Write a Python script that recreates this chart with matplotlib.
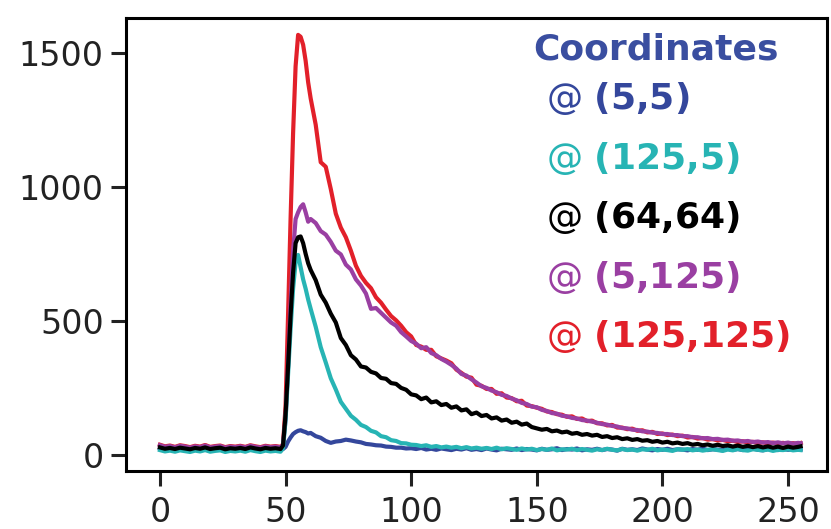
import matplotlib
matplotlib.use("Agg")
import matplotlib.pyplot as plt

# sample positions (frame index) shared by all series
frames = (list(range(0, 49, 2)) + list(range(49, 61)) + list(range(62, 101, 2))
          + list(range(102, 255, 2)) + [255])

legend_title = "Coordinates"
labels = ["(5{,}5)", "(125{,}5)", "(64{,}64)", "(5{,}125)", "(125{,}125)"]
colors = ["#34479c", "#27b4b4", "#000000", "#9a3fa2", "#e2202a"]

s_5_5 = [24, 19, 22, 18, 23, 20, 17, 22, 19, 24, 18, 21, 23, 17, 21, 19, 22, 18, 24, 20, 17, 22, 19, 21, 18,
         22, 30, 50, 65, 78, 85, 90, 92, 88, 85, 80, 82,
         70, 64, 52, 45, 50, 52, 57, 54, 50, 47, 41, 39, 36, 35, 31, 30, 27, 27, 24, 25,
         22, 26, 20, 23, 19, 24, 21, 18, 23, 20, 25, 19, 22, 18, 24, 20, 17, 23, 21, 19,
         24, 18, 22, 20, 17, 23, 19, 21, 25, 18, 22, 20, 24, 17, 21, 19, 23, 18, 22, 20,
         16, 23, 19, 21, 18, 24, 20, 17, 22, 19, 23, 18, 21, 20, 17, 22, 19, 24, 18, 21,
         20, 17, 23, 19, 22, 18, 21, 24, 19, 17, 22, 20, 18, 23, 19, 21, 20,
         20]

s_125_5 = [18, 13, 16, 12, 17, 14, 11, 16, 13, 18, 12, 15, 17, 11, 15, 13, 16, 12, 18, 14, 11, 16, 13, 15, 12,
           25, 130, 300, 470, 620, 720, 746, 700, 655, 620, 580, 545,
           478, 402, 345, 286, 244, 198, 172, 146, 131, 112, 104, 90, 84, 70, 66, 55, 52, 44, 43, 38,
           37, 33, 36, 30, 33, 28, 31, 27, 30, 25, 29, 24, 27, 23, 26, 22, 27, 21, 25, 22,
           19, 24, 20, 23, 18, 22, 19, 24, 17, 21, 20, 23, 18, 22, 19, 16, 21, 18, 23, 19,
           17, 22, 18, 20, 16, 21, 19, 23, 17, 20, 18, 15, 21, 19, 22, 17, 20, 16, 19, 21,
           18, 15, 20, 17, 22, 18, 16, 21, 19, 17, 20, 15, 19, 18, 21, 17, 19,
           18]

s_64_64 = [28, 23, 26, 22, 27, 24, 21, 26, 23, 28, 22, 25, 27, 21, 25, 23, 26, 22, 28, 24, 21, 26, 23, 25, 22,
           35, 150, 330, 520, 680, 790, 812, 815, 790, 750, 715, 690,
           652, 598, 568, 527, 494, 436, 410, 372, 356, 330, 326, 310, 304, 287, 284, 268, 265, 250, 243, 226,
           222, 208, 214, 196, 200, 186, 190, 176, 181, 166, 170, 152, 158, 145, 149, 136, 140, 128, 132, 120,
           124, 113, 117, 104, 99, 94, 97, 88, 91, 84, 87, 79, 82, 75, 78, 72, 75, 67, 70, 63,
           66, 59, 62, 56, 59, 53, 55, 49, 52, 46, 49, 43, 46, 41, 44, 38, 41, 36, 39, 34,
           38, 33, 36, 31, 35, 30, 34, 29, 33, 28, 32, 27, 31, 26, 31, 27, 30,
           32]

s_5_125 = [36, 30, 33, 28, 34, 31, 27, 32, 29, 35, 28, 31, 33, 27, 31, 29, 32, 28, 34, 30, 27, 32, 29, 31, 28,
           38, 130, 330, 560, 760, 880, 905, 925, 935, 905, 870, 880,
           865, 835, 822, 795, 762, 748, 710, 692, 655, 632, 602, 545, 548, 530, 512, 494, 482, 458, 442, 425,
           415, 398, 402, 380, 372, 358, 348, 336, 322, 302, 296, 282, 270, 256, 250, 240, 234, 224, 220, 210,
           204, 194, 190, 180, 178, 168, 164, 156, 154, 146, 144, 138, 136, 130, 128, 124, 120, 115, 113, 108,
           106, 100, 99, 94, 93, 88, 87, 83, 82, 78, 78, 74, 74, 70, 70, 66, 66, 62, 63, 59,
           60, 56, 57, 53, 54, 50, 52, 48, 50, 46, 48, 44, 47, 43, 46, 42, 45,
           44]

s_125_125 = [38, 32, 35, 30, 36, 33, 29, 34, 31, 37, 30, 33, 35, 29, 33, 31, 34, 30, 36, 32, 29, 34, 31, 33, 30,
             40, 180, 520, 880, 1200, 1450, 1567, 1560, 1530, 1470, 1390, 1330,
             1232, 1092, 1075, 992, 900, 848, 812, 762, 706, 668, 642, 622, 588, 568, 542, 518, 502, 482, 458, 442,
             410, 404, 392, 392, 368, 360, 352, 342, 318, 306, 292, 288, 262, 258, 246, 246, 228, 230, 214, 212,
             200, 202, 184, 182, 176, 172, 162, 160, 152, 150, 142, 144, 134, 136, 126, 128, 118, 118, 110, 112,
             102, 102, 96, 98, 90, 92, 84, 86, 78, 80, 74, 76, 70, 72, 65, 67, 61, 63, 57, 59,
             54, 56, 51, 53, 48, 51, 46, 49, 44, 47, 43, 46, 42, 45, 41, 44, 40,
             44]

series = [s_5_5, s_125_5, s_64_64, s_5_125, s_125_125]
zorders = [3, 4, 5, 2, 1]

fig = plt.figure(figsize=(8.31, 5.29), dpi=100)
ax = fig.add_axes([126 / 831, 1 - 471 / 529, (827 - 126) / 831, (471 - 18) / 529])

for lab, col, ys, z in zip(labels, colors, series, zorders):
    ax.plot(frames, ys, color=col, lw=3.0, zorder=z, label=r"@ $\mathbf{" + lab + "}$")

ax.set_xlim(-13.5, 265.5)
ax.set_ylim(-60, 1630)
ax.set_xticks([0, 50, 100, 150, 200, 250])
ax.set_yticks([0, 500, 1000, 1500])
ax.tick_params(axis="both", labelsize=24, length=11, width=2.2, pad=5, colors="#222222")
ax.tick_params(axis="x", pad=7)
for sp in ax.spines.values():
    sp.set_linewidth(2.2)

leg = ax.legend(loc="upper left", bbox_to_anchor=(0.5315, 0.934), frameon=False,
                handlelength=0, handletextpad=0.4, labelcolor="linecolor",
                fontsize=26, labelspacing=0.62)
for h in leg.legend_handles:
    h.set_visible(False)

ax.text(0.5806, 0.9073, legend_title, transform=ax.transAxes, ha="left", va="baseline",
        fontsize=26, fontweight="bold", color="#3a4ea0")

fig.savefig("out.png", dpi=100)
